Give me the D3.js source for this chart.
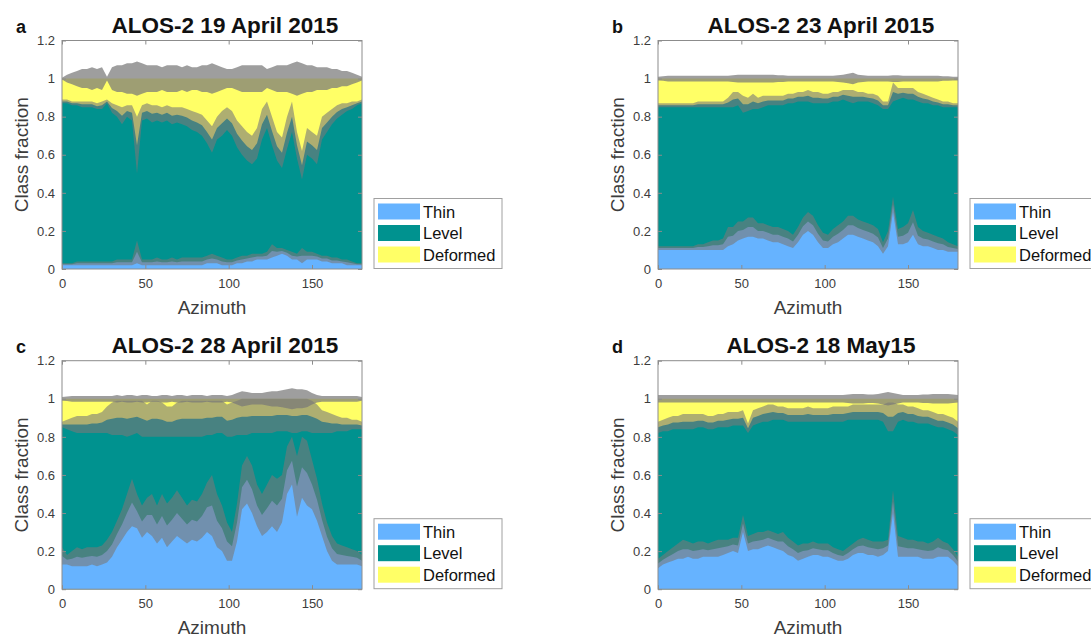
<!DOCTYPE html>
<html>
<head>
<meta charset="utf-8">
<script src="https://cdn.jsdelivr.net/npm/d3@7"></script>
<style>
body { margin: 0; background: #fff; }
svg { font-family: "Liberation Sans", Arial, sans-serif; }
</style>
</head>
<body>
<svg id="canvas" width="1091" height="637"></svg>
<script>
// azimuth samples (deg)
let azimuth = [0,3,6,9,12,15,18,21,24,27,30,33,36,39,42,45,48,51,54,57,60,63,66,69,72,75,78,81,84,87,
  90,93,96,99,102,105,108,111,114,117,120,123,126,129,132,135,138,141,144,147,150,153,156,159,162,165,168,171,174,177,180]

let classNames = ['Thin', 'Level', 'Deformed']
let yTicks = [0, 0.2, 0.4, 0.6, 0.8, 1, 1.2]
let xTicks = [0, 50, 100, 150]

// a: 19 April 2015  (Lo/Hi = edges of the grey uncertainty band around each class boundary)
let thinLoA = [.02,.02,.02,.02,.02,.02,.02,.02,.02,.02, .02,.02,.02,.02,.02,.03,.02,.02,.02,.02,
  .02,.02,.02,.02,.02,.02,.02,.02,.02,.03, .03,.03,.02,.02,.02,.03,.03,.04,.04,.05,
  .05,.05,.06,.07,.08,.07,.05,.05,.03,.05, .05,.05,.04,.04,.03,.03,.03,.02,.02,.02, .02]
let thinHiA = [.03,.03,.03,.04,.04,.04,.04,.04,.04,.04, .04,.05,.05,.05,.05,.15,.05,.05,.05,.06,
  .05,.05,.06,.05,.06,.06,.06,.06,.06,.07, .08,.07,.06,.05,.05,.06,.07,.07,.08,.08,
  .08,.09,.13,.11,.11,.10,.09,.08,.11,.09, .09,.08,.07,.07,.06,.06,.05,.05,.04,.03, .03]
let levelLoA = [.87,.87,.86,.86,.85,.85,.85,.84,.84,.87, .82,.80,.76,.80,.78,.50,.78,.79,.77,.78,
  .77,.78,.76,.77,.76,.75,.73,.72,.70,.66, .61,.68,.70,.73,.70,.64,.60,.57,.55,.58,
  .68,.74,.65,.57,.53,.63,.72,.58,.47,.60, .58,.55,.68,.72,.76,.79,.81,.83,.84,.86, .87]
let levelHiA = [.89,.89,.88,.88,.88,.88,.88,.87,.88,.89, .87,.86,.85,.86,.86,.80,.86,.87,.86,.86,
  .85,.86,.85,.85,.85,.84,.83,.82,.81,.78, .75,.80,.83,.85,.83,.78,.75,.72,.70,.74,
  .84,.88,.80,.72,.69,.80,.88,.72,.62,.74, .72,.70,.80,.82,.84,.86,.87,.87,.88,.88, .89]
let topErrA = [.005,.02,.03,.04,.05,.05,.06,.05,.06,.01, .06,.07,.07,.08,.08,.09,.08,.07,.07,.07,
  .06,.07,.07,.07,.06,.07,.06,.06,.07,.07, .08,.07,.06,.05,.05,.06,.07,.07,.07,.07,
  .07,.05,.06,.07,.07,.07,.08,.09,.08,.07, .07,.06,.06,.06,.05,.05,.04,.04,.03,.02, .01]

// b: 23 April 2015
let thinLoB = [.10,.10,.10,.10,.10,.10,.10,.10,.10,.10, .10,.10,.10,.10,.12,.13,.15,.16,.17,.17,
  .16,.16,.15,.14,.14,.13,.12,.11,.14,.18, .20,.18,.14,.11,.11,.13,.14,.16,.18,.18,
  .17,.16,.15,.14,.12,.08,.12,.30,.13,.13, .14,.18,.13,.12,.12,.11,.10,.10,.09,.09, .09]
let thinHiB = [.12,.12,.12,.12,.12,.12,.12,.12,.13,.13, .14,.15,.15,.16,.22,.22,.25,.25,.27,.27,
  .24,.24,.23,.22,.22,.21,.20,.18,.22,.27, .30,.28,.23,.19,.18,.21,.23,.25,.28,.28,
  .26,.25,.24,.23,.21,.14,.20,.38,.21,.22, .24,.31,.22,.20,.19,.18,.17,.16,.14,.13, .12]
let levelLoB = [.85,.85,.85,.85,.85,.85,.85,.85,.85,.85, .85,.85,.85,.85,.85,.85,.86,.82,.83,.84,
  .84,.85,.86,.86,.86,.86,.87,.87,.88,.88, .88,.87,.87,.87,.87,.88,.88,.89,.88,.87,
  .88,.88,.88,.87,.86,.84,.84,.88,.89,.90, .89,.89,.88,.87,.87,.86,.86,.85,.85,.85, .85]
let levelHiB = [.87,.87,.87,.87,.87,.87,.87,.87,.88,.88, .88,.88,.88,.88,.90,.93,.93,.91,.90,.92,
  .90,.91,.91,.91,.91,.91,.92,.92,.93,.93, .94,.93,.93,.92,.92,.93,.93,.94,.94,.94,
  .93,.93,.92,.92,.91,.88,.88,.98,.95,.95, .95,.95,.93,.92,.91,.90,.89,.88,.88,.87, .87]
let topErrB = [.01,.012,.015,.015,.015,.015,.015,.015,.015,.015, .015,.015,.015,.015,.015,.018,.02,.02,.02,.02,
  .02,.02,.02,.02,.018,.018,.015,.015,.015,.015, .015,.015,.015,.015,.015,.015,.018,.02,.025,.03,
  .02,.018,.015,.015,.015,.015,.015,.018,.018,.015, .015,.015,.015,.015,.015,.015,.015,.012,.012,.01, .01]

// c: 28 April 2015
let thinLoC = [.13,.13,.12,.12,.12,.12,.13,.12,.13,.14, .17,.22,.26,.30,.33,.32,.27,.30,.28,.24,
  .27,.22,.25,.28,.26,.24,.26,.25,.27,.30, .28,.22,.20,.15,.15,.25,.42,.45,.40,.33,
  .28,.30,.33,.30,.35,.50,.55,.38,.48,.44, .42,.36,.28,.20,.15,.13,.13,.13,.13,.13, .12]
let thinHiC = [.22,.18,.20,.22,.21,.22,.22,.22,.23,.26, .30,.36,.42,.50,.58,.50,.44,.48,.50,.44,
  .50,.45,.48,.52,.48,.44,.47,.46,.50,.56, .60,.50,.44,.35,.30,.45,.65,.70,.65,.55,
  .50,.55,.60,.58,.60,.75,.80,.70,.80,.78, .68,.58,.45,.35,.28,.24,.23,.22,.21,.20, .18]
let levelLoC = [.85,.84,.83,.82,.82,.82,.82,.82,.82,.82, .81,.81,.81,.80,.81,.82,.80,.80,.80,.80,
  .80,.80,.80,.80,.80,.80,.80,.80,.80,.81, .81,.82,.82,.80,.80,.81,.81,.81,.82,.82,
  .82,.82,.82,.83,.83,.83,.82,.82,.83,.83, .82,.82,.82,.82,.82,.83,.83,.83,.84,.84, .84]
let levelHiC = [.88,.89,.90,.91,.91,.91,.92,.92,.93,.96, .98,.99,.99,.99,.99,.99,.99,.97,.99,.99,
  .98,.96,.96,.98,.99,.99,.99,.99,.99,.99, .99,.99,.99,.97,.98,.99,1.0,1.0,1.0,1.0,
  1.0,1.0,1.0,1.0,1.0,1.0,1.0,1.0,1.0,1.0, .99,.97,.94,.93,.92,.91,.90,.90,.89,.89, .88]
let topErrC = [.01,.012,.015,.015,.015,.015,.015,.015,.015,.015, .015,.02,.015,.02,.02,.015,.02,.02,.015,.015,
  .02,.02,.015,.02,.02,.015,.02,.02,.02,.015, .02,.02,.02,.015,.02,.03,.04,.035,.03,.03,
  .03,.035,.04,.04,.045,.05,.055,.05,.05,.045, .03,.02,.015,.015,.015,.015,.015,.015,.015,.015, .01]

// d: 18 May 2015
let thinLoD = [.11,.13,.14,.15,.16,.16,.17,.16,.16,.17, .17,.17,.17,.18,.19,.20,.19,.30,.20,.21,
  .21,.22,.23,.22,.21,.20,.18,.17,.15,.16, .17,.18,.18,.17,.17,.16,.15,.15,.16,.18,
  .19,.19,.18,.18,.17,.18,.20,.40,.17,.17, .17,.17,.17,.16,.16,.16,.17,.17,.17,.15, .12]
let thinHiD = [.16,.18,.20,.22,.24,.26,.25,.24,.25,.25, .24,.25,.26,.26,.26,.27,.27,.39,.28,.29,
  .30,.30,.31,.30,.29,.30,.27,.25,.23,.24, .24,.25,.24,.24,.24,.22,.21,.20,.22,.24,
  .26,.27,.26,.25,.25,.25,.26,.52,.28,.27, .26,.26,.25,.25,.24,.25,.27,.25,.24,.21, .17]
let levelLoD = [.82,.83,.83,.84,.84,.84,.84,.84,.85,.85, .84,.84,.85,.85,.85,.86,.86,.86,.82,.86,
  .87,.88,.88,.89,.89,.89,.88,.88,.88,.88, .88,.88,.88,.88,.88,.88,.88,.88,.89,.89,
  .89,.89,.89,.89,.89,.88,.83,.83,.88,.89, .88,.88,.87,.87,.87,.86,.85,.85,.84,.83, .81]
let levelHiD = [.88,.89,.90,.91,.91,.92,.92,.92,.92,.92, .91,.91,.92,.92,.93,.93,.93,.94,.87,.94,
  .95,.96,.97,.97,.96,.96,.95,.95,.95,.95, .96,.95,.95,.95,.95,.96,.96,.96,.96,.97,
  .97,.97,.97,.97,.97,.97,.98,.98,.97,.97, .96,.96,.95,.94,.94,.93,.92,.92,.91,.90, .88]
let topErrD = [.02,.02,.02,.02,.02,.02,.02,.02,.02,.02, .02,.02,.02,.02,.02,.02,.02,.02,.02,.02,
  .02,.02,.02,.02,.02,.02,.02,.02,.02,.02, .02,.02,.02,.02,.02,.02,.02,.02,.022,.025,
  .025,.025,.022,.022,.025,.03,.035,.03,.025,.02, .02,.02,.02,.022,.022,.025,.025,.025,.025,.022, .02]

let colors = { Thin: '#66b3ff', Level: '#00928f', Deformed: '#ffff66' }
let bandColor = '#787878'
let axisColor = '#3c3c3c'

let panels = [
  { letter: 'a', title: 'ALOS-2 19 April 2015', left: 62, top: 40.5,
    thinLo: thinLoA, thinHi: thinHiA, levelLo: levelLoA, levelHi: levelHiA, topErr: topErrA },
  { letter: 'b', title: 'ALOS-2 23 April 2015', left: 658, top: 40.5,
    thinLo: thinLoB, thinHi: thinHiB, levelLo: levelLoB, levelHi: levelHiB, topErr: topErrB },
  { letter: 'c', title: 'ALOS-2 28 April 2015', left: 62, top: 360.7,
    thinLo: thinLoC, thinHi: thinHiC, levelLo: levelLoC, levelHi: levelHiC, topErr: topErrC },
  { letter: 'd', title: 'ALOS-2 18 May15', left: 658, top: 360.7,
    thinLo: thinLoD, thinHi: thinHiD, levelLo: levelLoD, levelHi: levelHiD, topErr: topErrD }
]

let canvas = d3.select('#canvas')
let w = 300
let h = 228.5

let xScale = d3.scaleLinear().domain([0, 180]).range([0, w])
let yScale = d3.scaleLinear().domain([0, 1.2]).range([h, 0])

let drawPanel = (p) => {
  let g = canvas.append('g').attr('transform', `translate(${p.left},${p.top})`)

  let rows = azimuth.map((az, i) => {
    return {
      az: az,
      thinLo: p.thinLo[i], thinHi: p.thinHi[i],
      levelLo: p.levelLo[i], levelHi: p.levelHi[i],
      thin: (p.thinLo[i] + p.thinHi[i]) / 2,
      level: (p.levelLo[i] + p.levelHi[i]) / 2,
      topLo: 1 - p.topErr[i], topHi: 1 + p.topErr[i]
    }
  })

  let area = (lo, hi) => d3.area()
    .x((d) => xScale(d.az))
    .y0((d) => yScale(lo(d)))
    .y1((d) => yScale(hi(d)))

  // stacked classes, painted back to front so there are no seams
  g.append('path').datum(rows).attr('fill', colors.Deformed)
    .attr('d', area(() => 0, () => 1))
  g.append('path').datum(rows).attr('fill', colors.Level)
    .attr('d', area(() => 0, (d) => d.level))
  g.append('path').datum(rows).attr('fill', colors.Thin)
    .attr('d', area(() => 0, (d) => d.thin))

  // uncertainty bands
  let bands = [
    { a: area((d) => d.thinLo, (d) => d.thinHi), op: 0.6 },
    { a: area((d) => d.levelLo, (d) => d.levelHi), op: 0.6 },
    { a: area((d) => d.topLo, (d) => d.topHi), op: 0.72 }
  ]
  bands.forEach((b) => {
    g.append('path').datum(rows)
      .attr('fill', bandColor)
      .attr('fill-opacity', b.op)
      .attr('d', b.a)
  })

  // axes (ticks pointing inward, matlab style)
  let fmt = (d) => String(+d.toFixed(1))
  let yAxis = g.append('g')
    .call(d3.axisLeft(yScale).tickValues(yTicks).tickFormat(fmt).tickSize(-4).tickPadding(7))
  let xAxis = g.append('g').attr('transform', `translate(0,${h})`)
    .call(d3.axisBottom(xScale).tickValues(xTicks).tickSize(-4).tickPadding(10))
  let yAxisR = g.append('g').attr('transform', `translate(${w},0)`)
    .call(d3.axisRight(yScale).tickValues(yTicks).tickFormat('').tickSize(-4))
  let xAxisT = g.append('g')
    .call(d3.axisTop(xScale).tickValues(xTicks).tickFormat('').tickSize(-4))

  ;[yAxis, xAxis, yAxisR, xAxisT].forEach((a) => {
    a.select('.domain').remove()
    a.selectAll('line').attr('stroke', '#8c8c8c')
    a.selectAll('text')
      .attr('fill', axisColor)
      .style('font-size', '13px')
      .style('font-family', '"Liberation Sans", Arial, sans-serif')
  })

  g.append('rect')
    .attr('x', 0).attr('y', 0).attr('width', w).attr('height', h)
    .attr('fill', 'none').attr('stroke', '#8c8c8c').attr('stroke-width', 1)

  // titles and labels
  g.append('text')
    .attr('x', w / 2 + 13).attr('y', -7.5)
    .attr('text-anchor', 'middle')
    .style('font-size', '22.5px').style('font-weight', 'bold')
    .attr('fill', '#111')
    .text(p.title)

  g.append('text')
    .attr('x', -46).attr('y', -8)
    .style('font-size', '18px').style('font-weight', 'bold')
    .attr('fill', '#111')
    .text(p.letter)

  g.append('text')
    .attr('transform', `translate(-34,${h / 2}) rotate(-90)`)
    .attr('text-anchor', 'middle')
    .style('font-size', '19px')
    .attr('fill', axisColor)
    .text('Class fraction')

  g.append('text')
    .attr('x', w / 2).attr('y', h + 45)
    .attr('text-anchor', 'middle')
    .style('font-size', '19px')
    .attr('fill', axisColor)
    .text('Azimuth')

  // legend
  let lg = g.append('g').attr('transform', `translate(${w + 12},158)`)
  lg.append('rect')
    .attr('x', 0).attr('y', 0).attr('width', 128).attr('height', 70)
    .attr('fill', '#fff').attr('stroke', '#a0a0a0')
  classNames.forEach((name, i) => {
    let ry = 5 + i * 21.5
    lg.append('rect')
      .attr('x', 4).attr('y', ry).attr('width', 42).attr('height', 16)
      .attr('fill', colors[name])
    lg.append('text')
      .attr('x', 49).attr('y', ry + 14)
      .style('font-size', '16.5px')
      .attr('fill', '#111')
      .text(name)
  })
}

panels.forEach(drawPanel)
</script>
</body>
</html>
